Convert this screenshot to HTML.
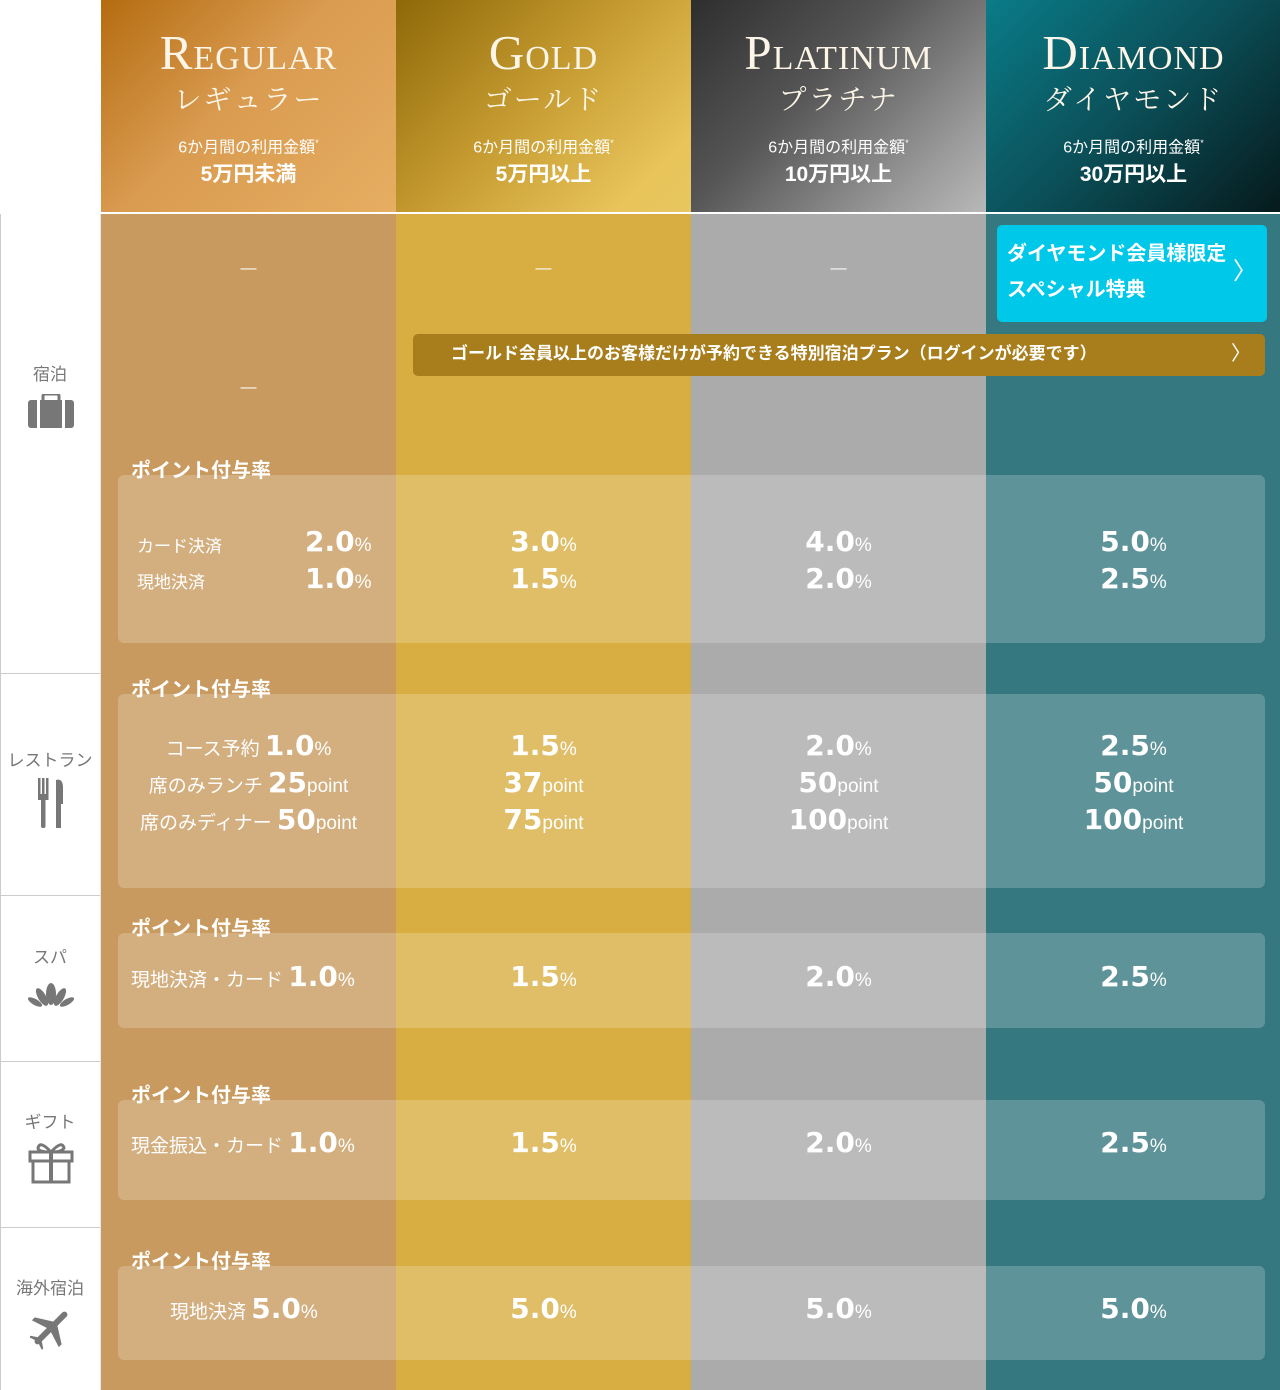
<!DOCTYPE html>
<html><head><meta charset="utf-8"><style>
*{margin:0;padding:0;box-sizing:border-box}
body{width:1280px;height:1390px;position:relative;overflow:hidden;background:#fff;font-family:"Liberation Sans","Noto Sans CJK JP",sans-serif;color:#fff}
.a{position:absolute}
.col{position:absolute;top:214px;height:1176px;width:295px}
.hd{position:absolute;top:0;height:212px;width:295px;text-align:center}
.t1{position:absolute;top:26px;width:100%;font-family:"Liberation Serif","Noto Serif CJK SC",serif;font-size:49px;font-variant:small-caps;letter-spacing:1px;line-height:54px;color:#fdf6e8}
.t2{position:absolute;top:80px;width:100%;font-family:"Noto Serif CJK SC",serif;font-size:28px;letter-spacing:2px;line-height:36px;color:#fdf6e8}
.t3{position:absolute;top:132px;width:100%;font-size:16px;line-height:22px}
.t3 sup{font-size:9px}
.t4{position:absolute;top:161px;width:100%;font-size:21px;font-weight:bold;line-height:28px}
.box{position:absolute;left:118px;width:1147px;background:rgba(255,255,255,0.2);border-radius:6px}
.lbl{position:absolute;left:131px;font-size:20px;font-weight:bold;line-height:22px}
.c{position:absolute;width:295px;text-align:center}
.ln{display:block;height:37px;line-height:37px;white-space:nowrap}
.n{font-family:"DejaVu Sans",sans-serif;font-size:28px;font-weight:bold}
.p{font-size:19px}
.s{font-size:19px}
.dash{position:absolute;width:295px;text-align:center;font-size:16px}
.side{position:absolute;left:0;width:100px;text-align:center;color:#777;font-size:17px}
.hl{position:absolute;left:0;width:100px;height:1px;background:#ccc}
</style></head><body>
<div class="hd" style="left:101px;background:linear-gradient(135deg,#b56c10 0%,#d99b50 45%,#e6ae62 100%)"><div class="t1">Regular</div><div class="t2">レギュラー</div><div class="t3">6か月間の利用金額<sup>*</sup></div><div class="t4">5万円未満</div></div>
<div class="hd" style="left:396px;background:linear-gradient(135deg,#8e6808 0%,#c49a30 45%,#e8c45a 85%,#e8c660 100%)"><div class="t1">Gold</div><div class="t2">ゴールド</div><div class="t3">6か月間の利用金額<sup>*</sup></div><div class="t4">5万円以上</div></div>
<div class="hd" style="left:691px;background:linear-gradient(135deg,#2e2e2e 0%,#555 40%,#9a9a9a 80%,#b8b8b8 100%)"><div class="t1">Platinum</div><div class="t2">プラチナ</div><div class="t3">6か月間の利用金額<sup>*</sup></div><div class="t4">10万円以上</div></div>
<div class="hd" style="left:986px;background:linear-gradient(135deg,#0a7c88 0%,#0b4f58 50%,#061a1c 100%)"><div class="t1">Diamond</div><div class="t2">ダイヤモンド</div><div class="t3">6か月間の利用金額<sup>*</sup></div><div class="t4">30万円以上</div></div>
<div class="col" style="left:101px;background:#c89a5f"></div>
<div class="col" style="left:396px;background:#d8ae42"></div>
<div class="col" style="left:691px;background:#ababab"></div>
<div class="col" style="left:986px;background:#367880;width:294px"></div>
<div class="a" style="left:0;top:214px;width:1px;height:1176px;background:#ccc"></div>
<div class="a" style="left:100px;top:214px;width:1px;height:1176px;background:#e8e8e8"></div>
<div class="hl" style="top:673px"></div><div class="hl" style="top:895px"></div><div class="hl" style="top:1061px"></div><div class="hl" style="top:1227px"></div>
<div class="side" style="top:360px">宿泊</div>
<svg class="a" style="left:28px;top:394px" width="46" height="34"><rect x="15" y="0" width="16" height="8" rx="2" fill="none" stroke="#777" stroke-width="3"/><rect x="0" y="6" width="46" height="28" rx="3" fill="#777"/><rect x="9" y="6" width="3" height="28" fill="#fff"/><rect x="34" y="6" width="3" height="28" fill="#fff"/></svg>
<div class="side" style="top:746px">レストラン</div>
<svg class="a" style="left:36px;top:778px" width="30" height="50"><rect x="2" y="0" width="2.5" height="18" fill="#777"/><rect x="6" y="0" width="2.5" height="18" fill="#777"/><rect x="10" y="0" width="2.5" height="18" fill="#777"/><rect x="2" y="16" width="10.5" height="6" fill="#777"/><rect x="5" y="20" width="4.5" height="30" rx="2" fill="#777"/><path d="M20 2 Q27 0 27 10 L27 26 L25 26 L25 50 L20 50 Z" fill="#777"/></svg>
<div class="side" style="top:943px">スパ</div>
<svg class="a" style="left:28px;top:982px" width="46" height="28"><g fill="#777"><ellipse cx="23" cy="12" rx="5" ry="11"/><ellipse cx="14" cy="15" rx="4" ry="10" transform="rotate(-30 14 15)"/><ellipse cx="32" cy="15" rx="4" ry="10" transform="rotate(30 32 15)"/><ellipse cx="7" cy="20" rx="3" ry="8" transform="rotate(-60 7 20)"/><ellipse cx="39" cy="20" rx="3" ry="8" transform="rotate(60 39 20)"/></g></svg>
<div class="side" style="top:1108px">ギフト</div>
<svg class="a" style="left:28px;top:1140px" width="46" height="44"><g fill="none" stroke="#777" stroke-width="3"><rect x="2" y="12" width="42" height="9"/><rect x="5" y="21" width="36" height="21"/><path d="M23 12 Q12 0 10 8 Q10 12 23 12 Q34 12 36 8 Q34 0 23 12"/></g><rect x="21" y="12" width="4" height="30" fill="#777"/></svg>
<div class="side" style="top:1274px">海外宿泊</div>
<svg class="a" style="left:30px;top:1306px" width="42" height="44"><g fill="#777" transform="rotate(45 21 22)"><rect x="18" y="0" width="6" height="44" rx="3"/><path d="M21 14 L2 26 L2 30 L21 24 L40 30 L40 26 Z"/><path d="M21 36 L12 42 L12 44 L21 41 L30 44 L30 42 Z"/></g></svg>
<div class="dash" style="left:101px;top:260px">—</div>
<div class="dash" style="left:396px;top:260px">—</div>
<div class="dash" style="left:691px;top:260px">—</div>
<div class="dash" style="left:101px;top:379px">—</div>
<div class="a" style="left:997px;top:225px;width:270px;height:97px;background:#00c8e8;border-radius:5px;font-size:20px;font-weight:bold;line-height:36px;padding:11px 0 0 10px">ダイヤモンド会員様限定<br>スペシャル特典<span class="a" style="right:10px;top:29px;font-weight:normal;font-size:24px">〉</span></div>
<div class="a" style="left:413px;top:334px;width:852px;height:42px;background:#a87e1c;border-radius:5px;font-size:17px;font-weight:bold;line-height:40px;padding-left:38px">ゴールド会員以上のお客様だけが予約できる特別宿泊プラン（ログインが必要です）<span class="a" style="right:14px;top:0;font-weight:normal;font-size:20px">〉</span></div>
<div class="lbl" style="top:460px">ポイント付与率</div>
<div class="box" style="top:475px;height:168px"></div>
<div class="a" style="left:137px;top:532px;font-size:17px">カード決済</div>
<div class="a" style="left:137px;top:568px;font-size:17px">現地決済</div>
<div class="a" style="left:305px;top:523px"><span class="ln"><span class="n">2.0</span><span class="p">%</span></span><span class="ln"><span class="n">1.0</span><span class="p">%</span></span></div>
<div class="c" style="left:396px;top:523px"><span class="ln"><span class="n">3.0</span><span class="p">%</span></span><span class="ln"><span class="n">1.5</span><span class="p">%</span></span></div>
<div class="c" style="left:691px;top:523px"><span class="ln"><span class="n">4.0</span><span class="p">%</span></span><span class="ln"><span class="n">2.0</span><span class="p">%</span></span></div>
<div class="c" style="left:986px;top:523px"><span class="ln"><span class="n">5.0</span><span class="p">%</span></span><span class="ln"><span class="n">2.5</span><span class="p">%</span></span></div>
<div class="lbl" style="top:679px">ポイント付与率</div>
<div class="box" style="top:694px;height:194px"></div>
<div class="c" style="left:101px;top:727px"><span class="ln"><span class="s">コース予約 </span><span class="n">1.0</span><span class="p">%</span></span><span class="ln"><span class="s">席のみランチ </span><span class="n">25</span><span class="p">point</span></span><span class="ln"><span class="s">席のみディナー </span><span class="n">50</span><span class="p">point</span></span></div>
<div class="c" style="left:396px;top:727px"><span class="ln"><span class="n">1.5</span><span class="p">%</span></span><span class="ln"><span class="n">37</span><span class="p">point</span></span><span class="ln"><span class="n">75</span><span class="p">point</span></span></div>
<div class="c" style="left:691px;top:727px"><span class="ln"><span class="n">2.0</span><span class="p">%</span></span><span class="ln"><span class="n">50</span><span class="p">point</span></span><span class="ln"><span class="n">100</span><span class="p">point</span></span></div>
<div class="c" style="left:986px;top:727px"><span class="ln"><span class="n">2.5</span><span class="p">%</span></span><span class="ln"><span class="n">50</span><span class="p">point</span></span><span class="ln"><span class="n">100</span><span class="p">point</span></span></div>
<div class="lbl" style="top:918px">ポイント付与率</div>
<div class="box" style="top:933px;height:95px"></div>
<div class="a" style="left:131px;top:958px"><span class="ln"><span class="s">現地決済・カード </span><span class="n">1.0</span><span class="p">%</span></span></div>
<div class="c" style="left:396px;top:958px"><span class="ln"><span class="n">1.5</span><span class="p">%</span></span></div>
<div class="c" style="left:691px;top:958px"><span class="ln"><span class="n">2.0</span><span class="p">%</span></span></div>
<div class="c" style="left:986px;top:958px"><span class="ln"><span class="n">2.5</span><span class="p">%</span></span></div>
<div class="lbl" style="top:1085px">ポイント付与率</div>
<div class="box" style="top:1100px;height:100px"></div>
<div class="a" style="left:131px;top:1124px"><span class="ln"><span class="s">現金振込・カード </span><span class="n">1.0</span><span class="p">%</span></span></div>
<div class="c" style="left:396px;top:1124px"><span class="ln"><span class="n">1.5</span><span class="p">%</span></span></div>
<div class="c" style="left:691px;top:1124px"><span class="ln"><span class="n">2.0</span><span class="p">%</span></span></div>
<div class="c" style="left:986px;top:1124px"><span class="ln"><span class="n">2.5</span><span class="p">%</span></span></div>
<div class="lbl" style="top:1251px">ポイント付与率</div>
<div class="box" style="top:1266px;height:94px"></div>
<div class="a" style="left:170px;top:1290px"><span class="ln"><span class="s">現地決済 </span><span class="n">5.0</span><span class="p">%</span></span></div>
<div class="c" style="left:396px;top:1290px"><span class="ln"><span class="n">5.0</span><span class="p">%</span></span></div>
<div class="c" style="left:691px;top:1290px"><span class="ln"><span class="n">5.0</span><span class="p">%</span></span></div>
<div class="c" style="left:986px;top:1290px"><span class="ln"><span class="n">5.0</span><span class="p">%</span></span></div>
</body></html>
